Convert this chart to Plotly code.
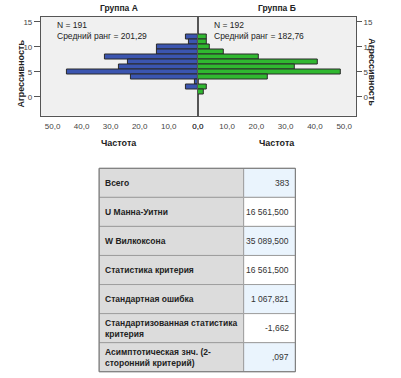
import plotly.graph_objects as go

# ---- data ----
aggr_levels = [12, 11, 10, 9, 8, 7, 6, 5, 4, 3, 2, 1]
group_a_freq = [4, 3, 14, 14, 32, 24, 27, 45, 23, 1, 4, 0]
group_b_freq = [3, 3, 4, 9, 21, 41, 33, 49, 24, 0, 3, 2]
x_tick_vals = [0, 10, 20, 30, 40, 50]
x_tick_text = ["0,0", "10,0", "20,0", "30,0", "40,0", "50,0"]
y_tick_vals = [0, 5, 10, 15]
y_tick_text = ["0", "5", "10", "15"]
group_titles = ["Группа А", "Группа Б"]
group_n = [191, 192]
group_mean_rank = ["201,29", "182,76"]

table_labels = ["Всего", "U Манна-Уитни", "W Вилкоксона", "Статистика критерия",
                "Стандартная ошибка", "Стандартизованная статистика<br>критерия",
                "Асимптотическая знч. (2-<br>сторонний критерий)"]
table_values = ["383", "16 561,500", "35 089,500", "16 561,500", "1 067,821", "-1,662", ",097"]

W, H = 401, 378
def px(x): return x / W
def py(y): return 1 - y / H

BLUE = "#3B55B0"
GREEN = "#30B830"
EDGE = "#2a2a2a"
FRAME = "#555555"
FONT = "Liberation Sans, Arial, sans-serif"
TXT = "#222222"

fig = go.Figure()

ya = [y for y, v in zip(aggr_levels, group_a_freq) if v > 0]
va = [v for v in group_a_freq if v > 0]
yb = [y for y, v in zip(aggr_levels, group_b_freq) if v > 0]
vb = [v for v in group_b_freq if v > 0]

fig.add_trace(go.Bar(x=va, y=ya, orientation="h", width=1, xaxis="x", yaxis="y",
                     marker=dict(color=BLUE, line=dict(color=EDGE, width=1)),
                     showlegend=False, hoverinfo="x+y"))
fig.add_trace(go.Bar(x=vb, y=yb, orientation="h", width=1, xaxis="x2", yaxis="y2",
                     marker=dict(color=GREEN, line=dict(color=EDGE, width=1)),
                     showlegend=False, hoverinfo="x+y"))

LX0, CX, RX1 = 36, 197.7, 360.7
TOPY, BOTY = 16.5, 115.7
x_left = [px(LX0), px(CX)]
x_right = [px(CX), px(RX1)]
y_dom = [py(BOTY), py(TOPY)]

axis_common = dict(showgrid=False, zeroline=False, showline=True, linecolor=FRAME,
                   linewidth=1, mirror=True, tickfont=dict(family=FONT, size=8, color="#444"))

fig.update_layout(
    width=W, height=H, margin=dict(l=0, r=0, t=0, b=0),
    paper_bgcolor="white", plot_bgcolor="#F0F0F0",
    bargap=0, showlegend=False,
    xaxis=dict(domain=x_left, range=[54, 0], tickvals=x_tick_vals, ticktext=x_tick_text,
               ticks="outside", ticklen=3, tickcolor="white", anchor="y", **axis_common),
    xaxis2=dict(domain=x_right, range=[0, 54], tickvals=x_tick_vals, ticktext=x_tick_text,
                ticks="outside", ticklen=3, tickcolor="white", anchor="y2", **axis_common),
    yaxis=dict(domain=y_dom, range=[-3.8, 16.05], tickvals=y_tick_vals, ticktext=y_tick_text,
               ticks="outside", ticklen=6, tickcolor=FRAME, anchor="x", side="left", **axis_common),
    yaxis2=dict(domain=y_dom, range=[-3.8, 16.05], tickvals=y_tick_vals, ticktext=y_tick_text,
                ticks="outside", ticklen=5, tickcolor=FRAME, anchor="x2", side="right", **axis_common),
)

anns = []
shapes = []
centers = [(LX0 + CX) / 2, (CX + RX1) / 2]
for i in range(2):
    anns.append(dict(x=px(centers[i]), y=py(8), xref="paper", yref="paper", text="<b>%s</b>" % group_titles[i],
                     showarrow=False, font=dict(family=FONT, size=8.5, color=TXT), xanchor="center", yanchor="middle"))
    anns.append(dict(x=px(centers[i]), y=py(143), xref="paper", yref="paper", text="<b>Частота</b>",
                     showarrow=False, font=dict(family=FONT, size=9, color=TXT), xanchor="center", yanchor="middle"))
n_x = [50, 212]
for i in range(2):
    anns.append(dict(x=px(n_x[i]), y=py(31), xref="paper", yref="paper",
                     text="N = %d<br>Средний ранг = %s" % (group_n[i], group_mean_rank[i]),
                     showarrow=False, align="left", font=dict(family=FONT, size=8.5, color=TXT),
                     xanchor="left", yanchor="middle"))
anns.append(dict(x=px(15), y=py(74), xref="paper", yref="paper", text="<b>Агрессивность</b>", textangle=-90,
                 showarrow=False, font=dict(family=FONT, size=9, color=TXT), xanchor="center", yanchor="middle"))
anns.append(dict(x=px(377), y=py(72), xref="paper", yref="paper", text="<b>Агрессивность</b>", textangle=90,
                 showarrow=False, font=dict(family=FONT, size=9, color=TXT), xanchor="center", yanchor="middle"))

# ---- table ----
T_L, T_S, T_R = 96, 245, 298.3
T_TOP, ROW_H = 168.3, 29.06
LBL_FILL = "#DCDCDC"
BLUE_FILL = "#EAF4FD"
GRID = "#9E9E9E"
n_rows = len(table_labels)
for r in range(n_rows):
    y0 = T_TOP + r * ROW_H
    y1 = y0 + ROW_H
    vfill = BLUE_FILL if r % 2 == 0 else "white"
    shapes.append(dict(type="rect", xref="paper", yref="paper", x0=px(T_L), x1=px(T_S), y0=py(y1), y1=py(y0),
                       fillcolor=LBL_FILL, line=dict(color=GRID, width=1), layer="below"))
    shapes.append(dict(type="rect", xref="paper", yref="paper", x0=px(T_S), x1=px(T_R), y0=py(y1), y1=py(y0),
                       fillcolor=vfill, line=dict(color=GRID, width=1), layer="below"))
    ym = (y0 + y1) / 2
    anns.append(dict(x=px(T_L + 3.5), y=py(ym), xref="paper", yref="paper",
                     text="<b>%s</b>" % table_labels[r], showarrow=False, align="left",
                     font=dict(family=FONT, size=8.5, color=TXT), xanchor="left", yanchor="middle"))
    anns.append(dict(x=px(T_R - 4.5), y=py(ym), xref="paper", yref="paper",
                     text=table_values[r], showarrow=False, align="right",
                     font=dict(family=FONT, size=8.5, color="#333"), xanchor="right", yanchor="middle"))
shapes.append(dict(type="rect", xref="paper", yref="paper", x0=px(T_L), x1=px(T_R),
                   y0=py(T_TOP + n_rows * ROW_H), y1=py(T_TOP),
                   line=dict(color="#7A7A7A", width=1), fillcolor="rgba(0,0,0,0)"))

fig.update_layout(annotations=anns, shapes=shapes)

fig.write_html("out.html", config={"displayModeBar": False},
               post_script="document.body.style.margin='0';")
